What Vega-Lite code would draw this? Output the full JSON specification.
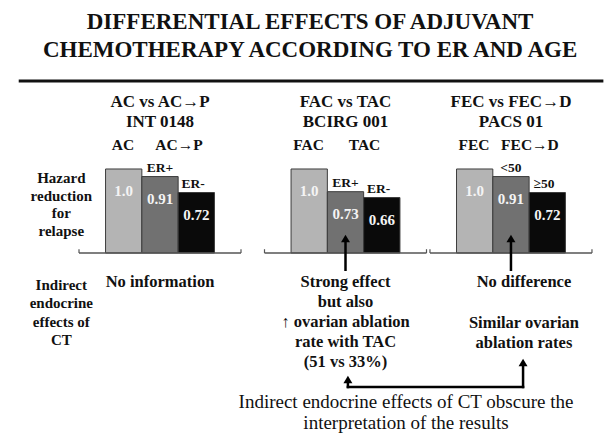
{
  "$schema": "https://vega.github.io/schema/vega-lite/v6.json",
  "width": 612,
  "height": 433,
  "autosize": {"type": "none"},
  "padding": 0,
  "background": "white",
  "config": {
    "view": {"stroke": null},
    "axis": {"disable": true},
    "text": {"font": "serif", "fontWeight": "bold", "color": "#111111", "baseline": "middle", "align": "center"}
  },
  "datasets": {
    "notes": [
      {"id": "title", "lines": ["DIFFERENTIAL EFFECTS OF ADJUVANT", "CHEMOTHERAPY ACCORDING TO ER AND AGE"]},
      {"id": "hazard", "lines": ["Hazard", "reduction", "for", "relapse"]},
      {"id": "indirect", "lines": ["Indirect", "endocrine", "effects of", "CT"]},
      {"id": "caption", "lines": ["Indirect endocrine effects of CT obscure the", "interpretation of the results"]}
    ],
    "trials": [
      {"col": 1, "study": "INT 0148", "comparison": "AC vs AC→P", "control": "AC", "experimental": "AC→P", "effect": ["No information"], "ovarian": ""},
      {"col": 2, "study": "BCIRG 001", "comparison": "FAC vs TAC", "control": "FAC", "experimental": "TAC", "effect": ["Strong effect", "but also", "↑ ovarian ablation", "rate with TAC", "(51 vs 33%)"], "ovarian": ""},
      {"col": 3, "study": "PACS 01", "comparison": "FEC vs FEC→D", "control": "FEC", "experimental": "FEC→D", "effect": ["No difference"], "ovarian": ["Similar ovarian", "ablation rates"]}
    ],
    "bars": [
      {"col": 1, "study": "INT 0148", "role": "control", "subgroup": "", "hr": 1.0},
      {"col": 1, "study": "INT 0148", "role": "sub1", "subgroup": "ER+", "hr": 0.91},
      {"col": 1, "study": "INT 0148", "role": "sub2", "subgroup": "ER-", "hr": 0.72},
      {"col": 2, "study": "BCIRG 001", "role": "control", "subgroup": "", "hr": 1.0},
      {"col": 2, "study": "BCIRG 001", "role": "sub1", "subgroup": "ER+", "hr": 0.73},
      {"col": 2, "study": "BCIRG 001", "role": "sub2", "subgroup": "ER-", "hr": 0.66},
      {"col": 3, "study": "PACS 01", "role": "control", "subgroup": "", "hr": 1.0},
      {"col": 3, "study": "PACS 01", "role": "sub1", "subgroup": "<50", "hr": 0.91},
      {"col": 3, "study": "PACS 01", "role": "sub2", "subgroup": "≥50", "hr": 0.72}
    ]
  },
  "data": {"values": [{}]},
  "layer": [
    {
      "data": {"name": "notes"},
      "transform": [{"filter": "datum.id === 'title'"}],
      "mark": {"type": "text", "fontSize": 23, "lineHeight": 28},
      "encoding": {
        "x": {"datum": 1.809, "type": "quantitative", "scale": {"domain": [0, 1, 2, 3], "range": [58, 160, 345.5, 516.5], "nice": false, "zero": false}, "axis": null},
        "y": {"datum": 2.75, "type": "quantitative", "scale": {"domain": [-2.1429, 3.0119], "nice": false, "zero": false}, "axis": null},
        "text": {"field": "lines"}
      }
    },
    {
      "mark": {"type": "rule", "strokeWidth": 3, "color": "#111111"},
      "encoding": {
        "x": {"datum": -0.4314, "type": "quantitative"},
        "x2": {"datum": 3.5585},
        "y": {"datum": 2.0476, "type": "quantitative"}
      }
    },
    {
      "data": {"name": "trials"},
      "mark": {"type": "text", "fontSize": 17},
      "encoding": {
        "x": {"field": "col", "type": "quantitative"},
        "y": {"datum": 1.7976, "type": "quantitative"},
        "text": {"field": "comparison"}
      }
    },
    {
      "data": {"name": "trials"},
      "mark": {"type": "text", "fontSize": 17},
      "encoding": {
        "x": {"field": "col", "type": "quantitative"},
        "y": {"datum": 1.5595, "type": "quantitative"},
        "text": {"field": "study"}
      }
    },
    {
      "data": {"name": "trials"},
      "mark": {"type": "text", "fontSize": 15.5, "xOffset": -37},
      "encoding": {
        "x": {"field": "col", "type": "quantitative"},
        "y": {"datum": 1.2857, "type": "quantitative"},
        "text": {"field": "control"}
      }
    },
    {
      "data": {"name": "trials"},
      "mark": {"type": "text", "fontSize": 15.5, "xOffset": 19},
      "encoding": {
        "x": {"field": "col", "type": "quantitative"},
        "y": {"datum": 1.2857, "type": "quantitative"},
        "text": {"field": "experimental"}
      }
    },
    {
      "data": {"name": "bars"},
      "transform": [{"filter": "datum.role === 'control'"}],
      "layer": [
        {
          "mark": {"type": "bar", "width": 36.3, "xOffset": -36.3, "stroke": "#3c3c3c", "strokeWidth": 1},
          "encoding": {
            "x": {"field": "col", "type": "quantitative"},
            "y": {"field": "hr", "type": "quantitative"},
            "y2": {"datum": 0},
            "color": {"field": "role", "type": "nominal", "scale": {"domain": ["control", "sub1", "sub2"], "range": ["#b4b4b4", "#717171", "#0a0a0a"]}, "legend": null}
          }
        },
        {
          "mark": {"type": "text", "fontSize": 15, "xOffset": -36.3, "dy": 22, "color": "#f4f4f4"},
          "encoding": {
            "x": {"field": "col", "type": "quantitative"},
            "y": {"field": "hr", "type": "quantitative"},
            "text": {"field": "hr", "type": "quantitative", "format": ".2r"}
          }
        }
      ]
    },
    {
      "data": {"name": "bars"},
      "transform": [{"filter": "datum.role === 'sub1'"}],
      "layer": [
        {
          "mark": {"type": "bar", "width": 36.3, "xOffset": 0, "stroke": "#3c3c3c", "strokeWidth": 1},
          "encoding": {
            "x": {"field": "col", "type": "quantitative"},
            "y": {"field": "hr", "type": "quantitative"},
            "y2": {"datum": 0},
            "color": {"field": "role", "type": "nominal", "scale": {"domain": ["control", "sub1", "sub2"], "range": ["#b4b4b4", "#717171", "#0a0a0a"]}, "legend": null}
          }
        },
        {
          "mark": {"type": "text", "fontSize": 15, "xOffset": 0, "dy": 22, "color": "#f4f4f4"},
          "encoding": {
            "x": {"field": "col", "type": "quantitative"},
            "y": {"field": "hr", "type": "quantitative"},
            "text": {"field": "hr", "type": "quantitative", "format": ".2r"}
          }
        },
        {
          "mark": {"type": "text", "fontSize": 13.5, "xOffset": 0, "dy": -9},
          "encoding": {
            "x": {"field": "col", "type": "quantitative"},
            "y": {"field": "hr", "type": "quantitative"},
            "text": {"field": "subgroup"}
          }
        }
      ]
    },
    {
      "data": {"name": "bars"},
      "transform": [{"filter": "datum.role === 'sub2'"}],
      "layer": [
        {
          "mark": {"type": "bar", "width": 36.3, "xOffset": 36.3, "stroke": "#3c3c3c", "strokeWidth": 1},
          "encoding": {
            "x": {"field": "col", "type": "quantitative"},
            "y": {"field": "hr", "type": "quantitative"},
            "y2": {"datum": 0},
            "color": {"field": "role", "type": "nominal", "scale": {"domain": ["control", "sub1", "sub2"], "range": ["#b4b4b4", "#717171", "#0a0a0a"]}, "legend": null}
          }
        },
        {
          "mark": {"type": "text", "fontSize": 15, "xOffset": 36.3, "dy": 22, "color": "#f4f4f4"},
          "encoding": {
            "x": {"field": "col", "type": "quantitative"},
            "y": {"field": "hr", "type": "quantitative"},
            "text": {"field": "hr", "type": "quantitative", "format": ".2r"}
          }
        },
        {
          "mark": {"type": "text", "fontSize": 13.5, "xOffset": 33, "dy": -9},
          "encoding": {
            "x": {"field": "col", "type": "quantitative"},
            "y": {"field": "hr", "type": "quantitative"},
            "text": {"field": "subgroup"}
          }
        }
      ]
    },
    {
      "data": {"name": "trials"},
      "mark": {"type": "rule", "strokeWidth": 1.5, "color": "#555555", "xOffset": -81, "x2Offset": 81},
      "encoding": {
        "x": {"field": "col", "type": "quantitative"},
        "x2": {"field": "col"},
        "y": {"datum": 0, "type": "quantitative"}
      }
    },
    {
      "data": {"name": "trials"},
      "mark": {"type": "rule", "strokeWidth": 1.2, "color": "#555555", "xOffset": -81},
      "encoding": {
        "x": {"field": "col", "type": "quantitative"},
        "y": {"datum": 0, "type": "quantitative"},
        "y2": {"datum": 0.045}
      }
    },
    {
      "data": {"name": "trials"},
      "mark": {"type": "rule", "strokeWidth": 1.2, "color": "#555555", "xOffset": 81},
      "encoding": {
        "x": {"field": "col", "type": "quantitative"},
        "y": {"datum": 0, "type": "quantitative"},
        "y2": {"datum": 0.045}
      }
    },
    {
      "data": {"name": "trials"},
      "transform": [{"filter": "datum.col > 1"}],
      "mark": {"type": "rule", "strokeWidth": 2.5, "color": "#000000"},
      "encoding": {
        "x": {"field": "col", "type": "quantitative"},
        "y": {"datum": -0.2143, "type": "quantitative"},
        "y2": {"datum": 0.1429}
      }
    },
    {
      "data": {"name": "trials"},
      "transform": [{"filter": "datum.col > 1"}],
      "mark": {"type": "point", "shape": "triangle-up", "filled": true, "size": 80, "color": "#000000", "opacity": 1},
      "encoding": {
        "x": {"field": "col", "type": "quantitative"},
        "y": {"datum": 0.1726, "type": "quantitative"}
      }
    },
    {
      "data": {"name": "notes"},
      "transform": [{"filter": "datum.id === 'hazard'"}],
      "mark": {"type": "text", "fontSize": 15, "lineHeight": 17.7},
      "encoding": {
        "x": {"datum": 0, "type": "quantitative"},
        "y": {"datum": 0.8929, "type": "quantitative"},
        "text": {"field": "lines"}
      }
    },
    {
      "data": {"name": "notes"},
      "transform": [{"filter": "datum.id === 'indirect'"}],
      "mark": {"type": "text", "fontSize": 15, "lineHeight": 18.3},
      "encoding": {
        "x": {"datum": 0, "type": "quantitative"},
        "y": {"datum": -0.381, "type": "quantitative"},
        "text": {"field": "lines"}
      }
    },
    {
      "data": {"name": "trials"},
      "transform": [{"filter": "datum.col < 3"}],
      "mark": {"type": "text", "fontSize": 16.5, "lineHeight": 20},
      "encoding": {
        "x": {"field": "col", "type": "quantitative"},
        "y": {"datum": -0.3452, "type": "quantitative"},
        "text": {"field": "effect"}
      }
    },
    {
      "data": {"name": "trials"},
      "transform": [{"filter": "datum.col === 3"}],
      "mark": {"type": "text", "fontSize": 16.5, "lineHeight": 20, "xOffset": 13},
      "encoding": {
        "x": {"field": "col", "type": "quantitative"},
        "y": {"datum": -0.3452, "type": "quantitative"},
        "text": {"field": "effect"}
      }
    },
    {
      "data": {"name": "trials"},
      "transform": [{"filter": "datum.col === 3"}],
      "mark": {"type": "text", "fontSize": 16.5, "lineHeight": 20, "xOffset": 13},
      "encoding": {
        "x": {"field": "col", "type": "quantitative"},
        "y": {"datum": -0.8333, "type": "quantitative"},
        "text": {"field": "ovarian"}
      }
    },
    {
      "mark": {"type": "rule", "strokeWidth": 2.5, "color": "#000000", "strokeCap": "square"},
      "encoding": {
        "x": {"datum": 3.0731, "type": "quantitative"},
        "y": {"datum": -1.5952, "type": "quantitative"},
        "y2": {"datum": -1.3571}
      }
    },
    {
      "mark": {"type": "rule", "strokeWidth": 2.5, "color": "#000000", "strokeCap": "square"},
      "encoding": {
        "x": {"datum": 2.0146, "type": "quantitative"},
        "x2": {"datum": 3.0731},
        "y": {"datum": -1.5952, "type": "quantitative"}
      }
    },
    {
      "mark": {"type": "rule", "strokeWidth": 2.5, "color": "#000000", "strokeCap": "square"},
      "encoding": {
        "x": {"datum": 2.0146, "type": "quantitative"},
        "y": {"datum": -1.5952, "type": "quantitative"},
        "y2": {"datum": -1.5595}
      }
    },
    {
      "mark": {"type": "point", "shape": "triangle-up", "filled": true, "size": 80, "color": "#000000", "opacity": 1},
      "encoding": {
        "x": {"datum": 3.0731, "type": "quantitative"},
        "y": {"datum": -1.3036, "type": "quantitative"}
      }
    },
    {
      "mark": {"type": "point", "shape": "triangle-up", "filled": true, "size": 80, "color": "#000000", "opacity": 1},
      "encoding": {
        "x": {"datum": 2.0146, "type": "quantitative"},
        "y": {"datum": -1.506, "type": "quantitative"}
      }
    },
    {
      "data": {"name": "notes"},
      "transform": [{"filter": "datum.id === 'caption'"}],
      "mark": {"type": "text", "fontSize": 19, "lineHeight": 21, "font": "Liberation Serif", "fontWeight": "normal"},
      "encoding": {
        "x": {"datum": 2.3655, "type": "quantitative"},
        "y": {"datum": -1.7738, "type": "quantitative"},
        "text": {"field": "lines"}
      }
    }
  ]
}
